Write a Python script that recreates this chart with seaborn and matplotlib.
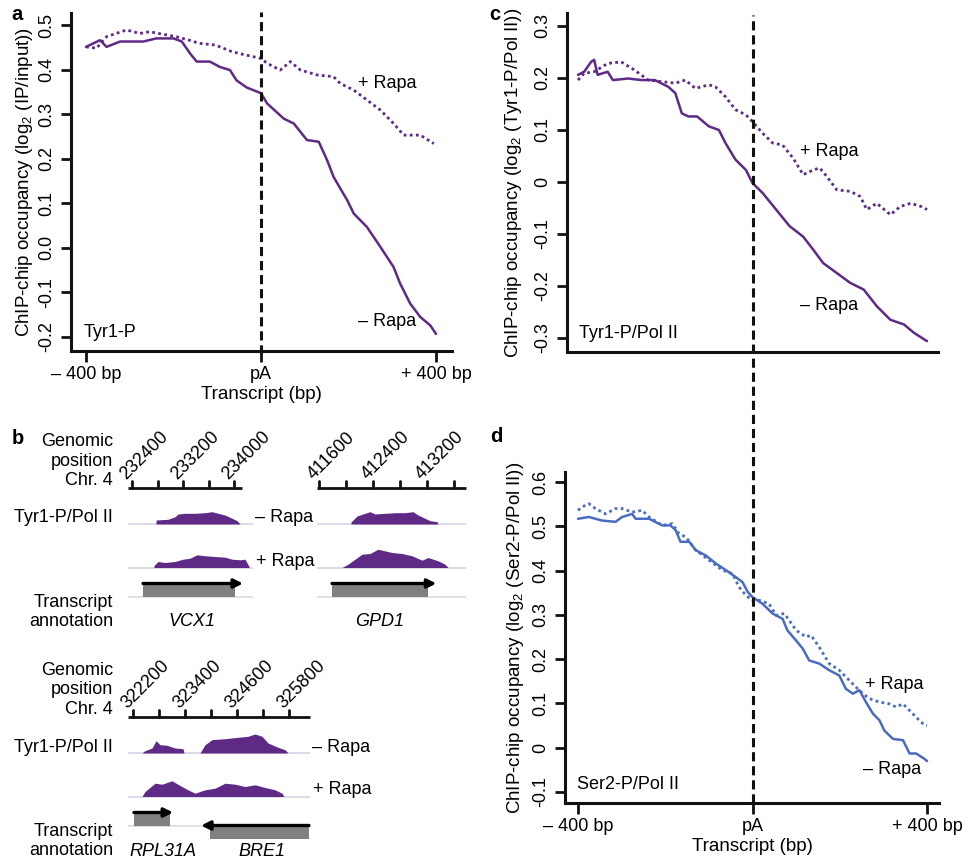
import numpy as np
import pandas as pd
import seaborn as sns
import matplotlib.pyplot as plt
from matplotlib.patches import Rectangle

# ---------------- data ----------------
# panel a: Tyr1-P, log2(IP/input) around the pA site
a_minus_x = [-400, -368, -353, -322, -269, -239, -200, -181, -162, -147, -117, -94, -71, -56, -33, 0, 14, 52, 75,
             105, 132, 151, 166, 197, 212, 242, 273, 303, 318, 341, 364, 387, 400]
a_minus_y = [0.451, 0.466, 0.451, 0.463, 0.463, 0.470, 0.470, 0.463, 0.436, 0.418, 0.418, 0.406, 0.399, 0.376,
             0.360, 0.347, 0.324, 0.290, 0.279, 0.242, 0.238, 0.197, 0.159, 0.107, 0.077, 0.047, 0.002, -0.043,
             -0.080, -0.125, -0.155, -0.174, -0.193]
a_plus_x = [-400, -376, -353, -307, -277, -255, -217, -194, -164, -141, -104, -66, -36, 0, 14, 44, 67, 90, 128,
            166, 181, 212, 242, 273, 303, 326, 364, 395]
a_plus_y = [0.451, 0.448, 0.474, 0.489, 0.481, 0.485, 0.478, 0.474, 0.466, 0.459, 0.455, 0.440, 0.433, 0.425,
            0.414, 0.399, 0.418, 0.399, 0.388, 0.384, 0.369, 0.354, 0.332, 0.309, 0.279, 0.253, 0.253, 0.234]

# panel c: Tyr1-P/Pol II
c_minus_x = [-400, -386, -370, -363, -355, -332, -320, -285, -255, -224, -193, -177, -162, -147, -127, -100, -77,
             -62, -39, -15, 0, 23, 54, 85, 116, 139, 162, 193, 224, 255, 285, 316, 347, 370, 394, 400]
c_minus_y = [0.206, 0.212, 0.231, 0.235, 0.206, 0.212, 0.196, 0.199, 0.196, 0.196, 0.183, 0.171, 0.132, 0.126,
             0.126, 0.107, 0.100, 0.075, 0.043, 0.023, -0.002, -0.021, -0.053, -0.085, -0.105, -0.130, -0.156,
             -0.175, -0.194, -0.207, -0.239, -0.265, -0.274, -0.290, -0.303, -0.306]
c_plus_x = [-400, -386, -363, -332, -301, -270, -239, -208, -177, -154, -131, -100, -85, -62, -39, -15, 0, 23, 46,
            69, 93, 116, 139, 154, 170, 193, 224, 247, 262, 285, 316, 339, 363, 386, 400]
c_plus_y = [0.196, 0.209, 0.212, 0.228, 0.231, 0.215, 0.196, 0.193, 0.190, 0.196, 0.180, 0.187, 0.183, 0.164,
            0.139, 0.129, 0.116, 0.094, 0.075, 0.071, 0.046, 0.014, 0.023, 0.027, 0.011, -0.015, -0.018, -0.028,
            -0.053, -0.041, -0.063, -0.047, -0.041, -0.047, -0.053]

# panel d: Ser2-P/Pol II
d_minus_x = [-400, -375, -345, -314, -299, -276, -268, -237, -207, -188, -176, -165, -145, -130, -107, -84, -61,
             -38, -23, -11, 0, 23, 46, 69, 80, 100, 115, 130, 153, 176, 199, 214, 230, 245, 260, 276, 291, 302,
             322, 345, 360, 375, 394, 400]
d_minus_y = [0.517, 0.521, 0.513, 0.510, 0.521, 0.528, 0.517, 0.517, 0.502, 0.502, 0.491, 0.465, 0.465, 0.446,
             0.434, 0.416, 0.401, 0.385, 0.374, 0.352, 0.340, 0.325, 0.303, 0.291, 0.265, 0.242, 0.224, 0.197,
             0.190, 0.175, 0.163, 0.133, 0.122, 0.130, 0.103, 0.077, 0.062, 0.039, 0.020, 0.017, -0.013, -0.013,
             -0.025, -0.030]
d_plus_x = [-400, -390, -375, -360, -337, -314, -299, -276, -253, -237, -207, -184, -168, -153, -130, -99, -69,
            -46, -31, -15, 0, 15, 38, 54, 73, 84, 100, 123, 134, 153, 176, 199, 222, 237, 253, 268, 291, 314,
            329, 345, 360, 375, 394, 400]
d_plus_y = [0.536, 0.544, 0.551, 0.540, 0.528, 0.540, 0.540, 0.532, 0.536, 0.521, 0.502, 0.506, 0.483, 0.476,
            0.446, 0.423, 0.401, 0.393, 0.363, 0.344, 0.333, 0.333, 0.325, 0.299, 0.303, 0.288, 0.265, 0.250,
            0.254, 0.227, 0.190, 0.175, 0.152, 0.137, 0.122, 0.111, 0.103, 0.099, 0.092, 0.099, 0.084, 0.069,
            0.051, 0.050]

x_ticks = [-400, 0, 400]
x_ticklabels = ['\u2013 400 bp', 'pA', '+ 400 bp']

# panel b: browser tracks (genomic position, signal in arbitrary units)
vcx1_minus_pos = [232777, 232965, 233075, 233122, 233232, 233388, 233545, 233655, 233749, 233859, 233969, 234047, 234095]
vcx1_minus_sig = [4, 4.7, 7.3, 10, 10.7, 10.7, 11.3, 12.3, 10.7, 9, 5.7, 3.3, 0]
vcx1_plus_pos = [232745, 232808, 232918, 233075, 233200, 233310, 233420, 233545, 233702, 233859, 233969, 234095, 234173, 234236]
vcx1_plus_sig = [2, 6, 5, 6, 8.3, 9.3, 12.7, 11.7, 11, 10.3, 8.3, 7.7, 8.3, 1]

gpd1_minus_pos = [412074, 412163, 412281, 412355, 412429, 412577, 412726, 412874, 412992, 413066, 413170, 413244, 413348, 413362]
gpd1_minus_sig = [2, 8, 10.7, 12.3, 10, 10.7, 11.3, 11.3, 12.3, 9, 5.7, 3.3, 2.3, 0]
gpd1_plus_pos = [411941, 412029, 412133, 412237, 412355, 412474, 412533, 412681, 412829, 412977, 413125, 413214, 413362, 413466, 413510]
gpd1_plus_sig = [0, 3.3, 8.3, 13.3, 14, 18.3, 17.3, 15, 14, 11.7, 7.3, 10, 6.7, 3.3, 0]

bre1_minus_pos = [322408, 322477, 322639, 322731, 322823, 322985, 323169, 323354, 323377,
                  323746, 323862, 324023, 324323, 324623, 324854, 325016, 325177, 325316, 325547, 325708, 325777]
bre1_minus_sig = [0, 2.3, 5, 12.3, 8.3, 7.7, 5, 4.3, 0,
                  0, 8.3, 13.3, 14.3, 15.7, 16.7, 19, 16.7, 10, 5.7, 3.3, 0]
bre1_plus_pos = [322408, 322477, 322708, 322869, 323100, 323285, 323469, 323631, 323862, 324093, 324323,
                 324554, 324785, 325016, 325247, 325477, 325639, 325685]
bre1_plus_sig = [0, 5, 13.3, 12.3, 15.7, 11, 6.7, 3.3, 6.7, 8.3, 13.3, 12.3, 10, 11.7, 9, 6.7, 3.3, 0]

# genes: name, start, end, strand
genes_top_left = [('VCX1', 232573, 234016, '+')]
genes_top_right = [('GPD1', 411793, 413214, '+')]
genes_bottom = [('RPL31A', 322223, 323054, '+'), ('BRE1', 323977, 326262, '-')]

# ---------------- style ----------------
sns.set_theme(style="ticks")
plt.rcParams['font.family'] = ['Liberation Sans', 'DejaVu Sans']
plt.rcParams['mathtext.fontset'] = 'custom'
plt.rcParams['mathtext.rm'] = 'Liberation Sans'
plt.rcParams['mathtext.it'] = 'Liberation Sans:italic'
plt.rcParams['mathtext.bf'] = 'Liberation Sans:bold'
for k in ['text.color', 'axes.labelcolor', 'xtick.color', 'ytick.color', 'axes.edgecolor']:
    plt.rcParams[k] = 'black'

W, H = 968, 860
PURPLE = '#5f2a86'
BLUE = '#4a6cc0'
FS = 13

fig = plt.figure(figsize=(W / 100, H / 100), dpi=100)


def box(l, t, r, b):
    # pixel box -> figure fraction
    return [l / W, 1 - b / H, (r - l) / W, (b - t) / H]


def fig_text(px, py, s, **kw):
    fig.text(px / W, 1 - py / H, s, **kw)


def profile_panel(ax, mx, my, px_, py_, color, xlim, ylim, yticks, yticklabels, ylabel, ylab_x, tag,
                  plus_xy, minus_xy, xlabels=True):
    dfm = pd.DataFrame({'pos': mx, 'occ': my})
    dfp = pd.DataFrame({'pos': px_, 'occ': py_})
    sns.lineplot(data=dfm, x='pos', y='occ', ax=ax, color=color, lw=1.8, errorbar=None)
    sns.lineplot(data=dfp, x='pos', y='occ', ax=ax, color=color, lw=2.0, errorbar=None,
                 linestyle=(0, (1.0, 1.2)))
    ax.set_xlim(xlim)
    ax.set_ylim(ylim)
    ax.set_yticks(yticks)
    ax.set_yticklabels(yticklabels, rotation=90, va='center', fontsize=FS)
    sns.despine(ax=ax)
    for s in ['left', 'bottom']:
        ax.spines[s].set_linewidth(2.2)
        ax.spines[s].set_color('#111111')
    ax.tick_params(axis='y', width=2, length=7, pad=4, color='#111111')
    if xlabels:
        ax.set_xticks(x_ticks)
        ax.set_xticklabels(x_ticklabels, fontsize=FS)
        ax.tick_params(axis='x', width=2, length=8, pad=3, color='#111111')
        ax.set_xlabel('Transcript (bp)', fontsize=FS + 0.5, labelpad=2)
    else:
        ax.set_xticks([])
        ax.set_xlabel('')
    ax.set_ylabel(ylabel, fontsize=FS + 0.5)
    ax.yaxis.set_label_coords(ylab_x, 0.5)
    ax.text(0.033, 0.056, tag, transform=ax.transAxes, fontsize=FS, va='center', ha='left')
    ax.text(plus_xy[0], plus_xy[1], '+ Rapa', fontsize=FS, va='center', ha='left')
    ax.text(minus_xy[0], minus_xy[1], '\u2013 Rapa', fontsize=FS, va='center', ha='left')
    ax.set_facecolor('none')


# ---------------- panel a ----------------
ax_a = fig.add_axes(box(71, 13, 452, 351))
profile_panel(ax_a, a_minus_x, a_minus_y, a_plus_x, a_plus_y, PURPLE, (-434.3, 436.6), (-0.2314, 0.527),
              [0.5, 0.4, 0.3, 0.2, 0.1, 0.0, -0.1, -0.2], ['0.5', '0.4', '0.3', '0.2', '0.1', '0.0', '-0.1', '-0.2'],
              r'ChIP-chip occupancy (log$_2$ (IP/input))', -0.095, 'Tyr1-P', (222, 0.368), (222, -0.166))
ax_a.axvline(0, ymin=-0.01, ymax=1.003, color='#111111', lw=2.2, linestyle=(0, (3, 1.6)), clip_on=False, zorder=5)

# ---------------- panel c ----------------
ax_c = fig.add_axes(box(567, 13, 938, 352))
profile_panel(ax_c, c_minus_x, c_minus_y, c_plus_x, c_plus_y, PURPLE, (-425.2, 425.2), (-0.327, 0.325),
              [0.3, 0.2, 0.1, 0.0, -0.1, -0.2, -0.3], ['0.3', '0.2', '0.1', '0', '-0.1', '-0.2', '-0.3'],
              r'ChIP-chip occupancy (log$_2$ (Tyr1-P/Pol II))', -0.116, 'Tyr1-P/Pol II', (109, 0.058),
              (109, -0.238), xlabels=False)

# ---------------- panel d ----------------
ax_d = fig.add_axes(box(565, 472, 939, 803))
profile_panel(ax_d, d_minus_x, d_minus_y, d_plus_x, d_plus_y, BLUE, (-429.8, 427.5), (-0.1248, 0.6226),
              [0.6, 0.5, 0.4, 0.3, 0.2, 0.1, 0.0, -0.1], ['0.6', '0.5', '0.4', '0.3', '0.2', '0.1', '0', '-0.1'],
              r'ChIP-chip occupancy (log$_2$ (Ser2-P/Pol II))', -0.104, 'Ser2-P/Pol II', (258, 0.142),
              (253, -0.050))
# dashed pA line running through panels c and d
ax_d.axvline(0, ymin=0, ymax=(803 - 15) / 331, color='#111111', lw=2.2, linestyle=(0, (3, 1.6)),
             clip_on=False, zorder=5)

# ---------------- panel b ----------------
ROW_MINUS, ROW_PLUS, ROW_GENE = 36, 79.5, 108.5
GENE_H = 13


def locus_panel(l_px, r_px, top_px, xlim, axis_end, ticks, tick_labels, minus, plus, genes, name_x):
    ax = fig.add_axes(box(l_px, top_px - 10, r_px, top_px + 125))
    ax.set_xlim(xlim)
    ax.set_ylim(125, -10)
    ax.axis('off')
    # genomic coordinate axis
    ax.plot([xlim[0], axis_end], [0, 0], color='#111111', lw=2, solid_capstyle='butt', clip_on=False)
    for t in ticks:
        ax.plot([t, t], [0, -7], color='#111111', lw=2, clip_on=False)
    for t, lab in zip(ticks[::2], tick_labels):
        ax.annotate(lab, xy=(t, -7), xytext=(-4, 1), textcoords='offset points', rotation=45,
                    rotation_mode='anchor', ha='left', va='baseline', fontsize=FS)
    # coverage tracks
    for row, (pos, sig) in [(ROW_MINUS, minus), (ROW_PLUS, plus)]:
        ax.axhline(row, color='#d6cfe0', lw=1.1, zorder=1)
        ax.fill_between(pos, row, row - np.array(sig), color=PURPLE, lw=0, zorder=2)
    # transcript annotation
    ax.axhline(ROW_GENE, color='#d9d9d9', lw=1.1, zorder=1)
    for (gname, g0, g1, strand), nx in zip(genes, name_x):
        if strand == '+':
            ax.add_patch(Rectangle((g0, ROW_GENE - GENE_H), g1 - g0, GENE_H, color='#808080', lw=0, zorder=2))
            ax.annotate('', xy=(g1 + (g1 - g0) * 0.087, ROW_GENE - GENE_H), xytext=(g0, ROW_GENE - GENE_H),
                        arrowprops=dict(arrowstyle='-|>', lw=2.4, color='black', mutation_scale=13,
                                        shrinkA=0, shrinkB=0), zorder=3)
        else:
            ax.add_patch(Rectangle((g0, ROW_GENE), g1 - g0, GENE_H, color='#808080', lw=0, zorder=2))
            ax.annotate('', xy=(g0 - (g1 - g0) * 0.09, ROW_GENE), xytext=(g1, ROW_GENE),
                        arrowprops=dict(arrowstyle='-|>', lw=2.4, color='black', mutation_scale=13,
                                        shrinkA=0, shrinkB=0), zorder=3)
        ax.text(nx, ROW_GENE + 25 if len(genes) == 1 else ROW_GENE + 26, gname,
                style='italic', fontsize=FS, ha='center', va='center')
    return ax


locus_panel(128, 253, 488, (232337, 234298), 234125, [232400, 232800, 233200, 233600, 234000],
            ['232400', '233200', '234000'], (vcx1_minus_pos, vcx1_minus_sig), (vcx1_plus_pos, vcx1_plus_sig),
            genes_top_left, [233341])
locus_panel(317, 466, 488, (411570, 413777), 413777, [411600, 412000, 412400, 412800, 413200, 413600],
            ['411600', '412400', '413200'], (gpd1_minus_pos, gpd1_minus_sig), (gpd1_plus_pos, gpd1_plus_sig),
            genes_top_right, [412503])
locus_panel(128, 310, 717, (322085, 326285), 326285,
            [322200, 322800, 323400, 324000, 324600, 325200, 325800],
            ['322200', '323400', '324600', '325800'], (bre1_minus_pos, bre1_minus_sig),
            (bre1_plus_pos, bre1_plus_sig), genes_bottom, [322892, 325177])

# row labels for panel b
for y0 in [0, 229]:
    fig_text(113, 461 + y0, 'Genomic\nposition\nChr. 4', ha='right', va='center', fontsize=FS,
             multialignment='right', linespacing=1.22)
    fig_text(113, 518 + y0, 'Tyr1-P/Pol II', ha='right', va='center', fontsize=FS)
    fig_text(113, 612 + y0, 'Transcript\nannotation', ha='right', va='center', fontsize=FS,
             multialignment='right', linespacing=1.22)
fig_text(255, 518, '\u2013 Rapa', ha='left', va='center', fontsize=FS)
fig_text(256, 562, '+ Rapa', ha='left', va='center', fontsize=FS)
fig_text(312, 747, '\u2013 Rapa', ha='left', va='center', fontsize=FS)
fig_text(313, 790, '+ Rapa', ha='left', va='center', fontsize=FS)

# panel letters
for lx, ly, s in [(17, 14, 'a'), (18, 438, 'b'), (495, 14, 'c'), (496, 437, 'd')]:
    fig_text(lx, ly, s, ha='center', va='center', fontsize=FS + 1.5, fontweight='bold')

fig.savefig('out.png', dpi=100, facecolor='white')
